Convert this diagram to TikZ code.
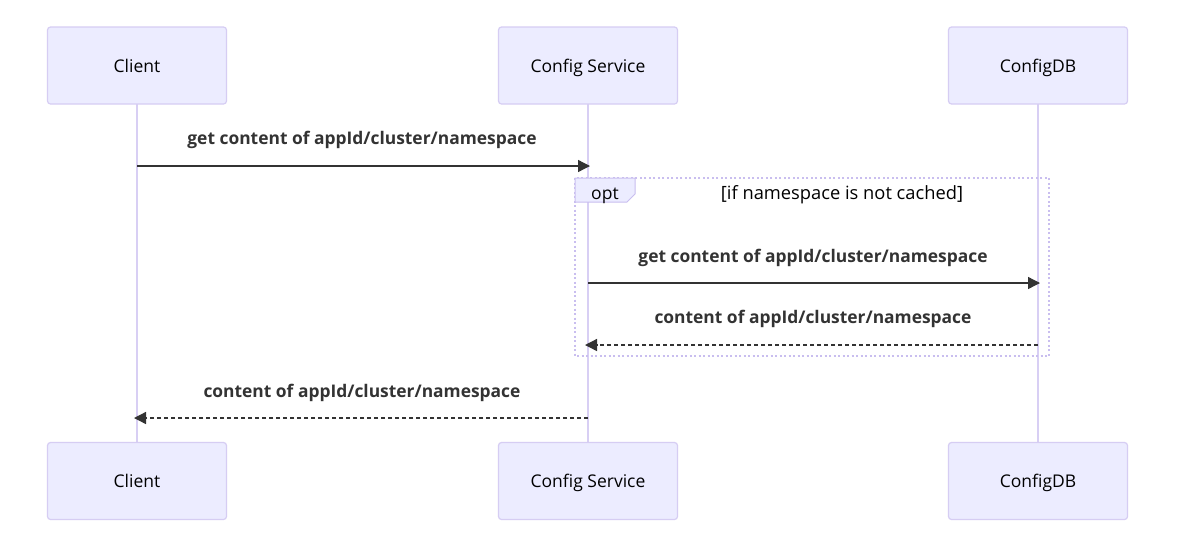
\documentclass[tikz,border=0pt]{standalone}
\usepackage{fontspec}
\setmainfont{Open Sans}
\usetikzlibrary{arrows.meta}
\definecolor{actorfill}{HTML}{ECECFF}
\definecolor{actorline}{HTML}{D6CDF3}
\definecolor{lifeline}{HTML}{D8CFF4}
\definecolor{msgcol}{HTML}{333333}
\definecolor{loopline}{HTML}{C9BEEF}
\begin{document}
\begin{tikzpicture}[x=1pt,y=-1pt,
  actor/.style={draw=actorline,fill=actorfill,rounded corners=3pt,line width=1.2pt,
    minimum width=179pt,minimum height=77pt,inner sep=0pt,text height=15pt,text depth=2pt,
    font=\fontsize{17.5}{19}\selectfont,text=black},
  life/.style={draw=lifeline,line width=1.6pt},
  msg/.style={draw=msgcol,line width=1.3pt,-{Triangle[length=12pt,width=12pt]},shorten >=0pt},
  reply/.style={msg,dash pattern=on 4pt off 3pt},
  msglabel/.style={font=\bfseries\fontsize{17.4}{19}\selectfont,text=msgcol,inner sep=0pt},
  ]
\useasboundingbox (0,0) rectangle (1186,542);
\fill[white] (0,0) rectangle (1186,542);

% lifelines
\draw[life] (137,104) -- (137,442);
\draw[life] (588,104) -- (588,442);
\draw[life] (1038,104) -- (1038,442);

% actors, top and bottom
\node[actor] (c1) at (137,65.5) {Client};
\node[actor] (s1) at (588,65.5) {Config Service};
\node[actor] (d1) at (1038,65.5) {ConfigDB};
\node[actor] (c2) at (137,481) {Client};
\node[actor] (s2) at (588,481) {Config Service};
\node[actor] (d2) at (1038,481) {ConfigDB};

% anchor points on the lifelines
\coordinate (cA) at (137,166); \coordinate (sA) at (590,166);
\coordinate (sB) at (588,283); \coordinate (dB) at (1040,283);
\coordinate (dC) at (1038,345); \coordinate (sC) at (585,345);
\coordinate (sD) at (588,418); \coordinate (cD) at (134,418);

% opt fragment
\draw[loopline,line width=1.6pt,dash pattern=on 2pt off 2.5pt] (575,178) rectangle (1049,356);
\fill[actorfill,draw=loopline,line width=1pt] (575,178) -- (635,178) -- (635,194) -- (627,202) -- (575,202) -- cycle;
\node[font=\fontsize{17.5}{19}\selectfont,anchor=base west,inner sep=0pt] (opt) at (591,199) {opt};
\node[font=\fontsize{18.3}{20}\selectfont,anchor=base,inner sep=0pt] (cond) at (842,199) {[if namespace is not cached]};

% messages
\draw[msg] (cA) -- (sA);
\node[msglabel] (l1) at (362,140) {get content of appId/cluster/namespace};
\draw[msg] (sB) -- (dB);
\node[msglabel] (l2) at (813,258) {get content of appId/cluster/namespace};
\draw[reply] (dC) -- (sC);
\node[msglabel] (l3) at (813,319) {content of appId/cluster/namespace};
\draw[reply] (sD) -- (cD);
\node[msglabel] (l4) at (362,393) {content of appId/cluster/namespace};
\end{tikzpicture}
\end{document}
